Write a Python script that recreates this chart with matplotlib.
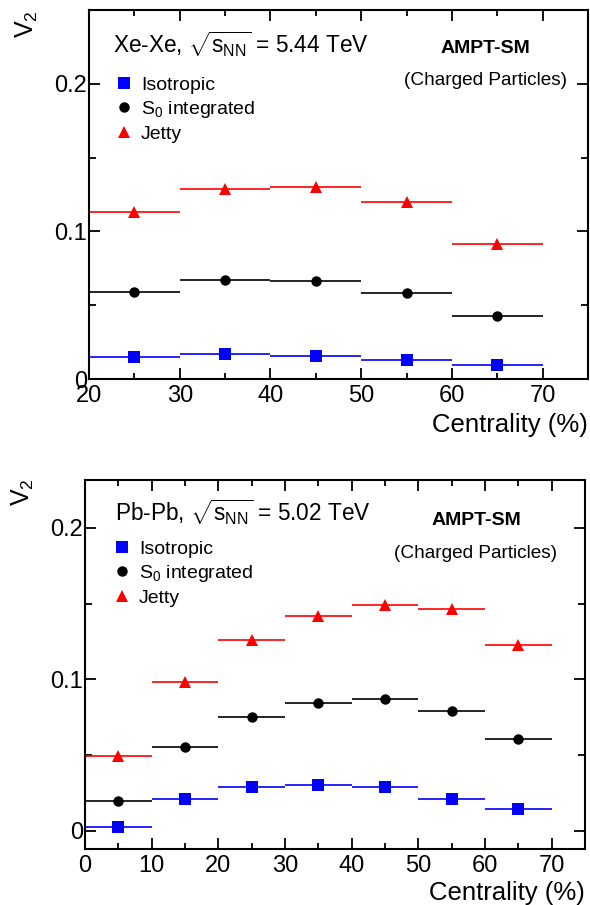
import matplotlib
matplotlib.use("Agg")
import matplotlib.pyplot as plt
from matplotlib.lines import Line2D
from matplotlib.ticker import MultipleLocator

plt.rcParams['font.family'] = ['Liberation Sans', 'DejaVu Sans']
plt.rcParams['mathtext.fontset'] = 'custom'
plt.rcParams['mathtext.rm'] = 'Liberation Sans'
plt.rcParams['mathtext.it'] = 'Liberation Sans:italic'
plt.rcParams['mathtext.bf'] = 'Liberation Sans:bold'

# ---------------- data ----------------
bin_half_width = 5.0

xe_centrality = [25, 35, 45, 55, 65]
xe_isotropic = [0.0146, 0.0167, 0.0153, 0.0128, 0.0092]
xe_s0 = [0.0590, 0.0669, 0.0662, 0.0581, 0.0430]
xe_jetty = [0.1131, 0.1284, 0.1302, 0.1198, 0.0914]

pb_centrality = [5, 15, 25, 35, 45, 55, 65]
pb_isotropic = [0.0024, 0.0209, 0.0292, 0.0303, 0.0290, 0.0213, 0.0141]
pb_s0 = [0.0200, 0.0554, 0.0754, 0.0844, 0.0868, 0.0791, 0.0609]
pb_jetty = [0.0495, 0.0985, 0.1262, 0.1418, 0.1490, 0.1464, 0.1226]

series_labels = ['Isotropic', r'S$_{0}$ integrated', 'Jetty']
series_colors = ['#0000ff', '#000000', '#ff0000']
series_markers = ['s', 'o', '^']
series_msize = [8, 7.5, 8.2]

panels = [
    dict(system=r'Xe-Xe, $\sqrt{\mathrm{s}_{\mathrm{NN}}}$ = 5.44 TeV',
         x=xe_centrality, ys=[xe_isotropic, xe_s0, xe_jetty],
         xlim=(20, 75), ylim=(0.0, 0.25),
         rect=[89/590, 1-379/905, 499/590, 369/905],
         sys_pos=(0.048, 0.8835), ampt_pos=(0.7936, 0.8826), chg_pos=(0.7936, 0.797),
         leg_pos=(0.0507, 0.821), ylab_pos=(-0.124, 1.0), xlab_y=-0.1436),
    dict(system=r'Pb-Pb, $\sqrt{\mathrm{s}_{\mathrm{NN}}}$ = 5.02 TeV',
         x=pb_centrality, ys=[pb_isotropic, pb_s0, pb_jetty],
         xlim=(0, 75), ylim=(-0.012, 0.2317),
         rect=[85/590, 1-849/905, 500/590, 369/905],
         sys_pos=(0.06, 0.889), ampt_pos=(0.782, 0.878), chg_pos=(0.782, 0.789),
         leg_pos=(0.0546, 0.837), ylab_pos=(-0.125, 1.005), xlab_y=-0.138),
]

fig = plt.figure(figsize=(5.9, 9.05), dpi=100)

for p in panels:
    ax = fig.add_axes(p['rect'])
    for y, c, m, ms in zip(p['ys'], series_colors, series_markers, series_msize):
        ax.errorbar(p['x'], y, xerr=bin_half_width, fmt=m, color=c, ms=ms,
                    elinewidth=1.2, capsize=0, mew=0, ecolor=c)
    ax.set_xlim(*p['xlim'])
    ax.set_ylim(*p['ylim'])
    ax.xaxis.set_major_locator(MultipleLocator(10))
    ax.xaxis.set_minor_locator(MultipleLocator(5))
    ax.yaxis.set_major_locator(MultipleLocator(0.1))
    ax.yaxis.set_minor_locator(MultipleLocator(0.05))
    ax.yaxis.set_major_formatter(matplotlib.ticker.FuncFormatter(
        lambda v, pos: '0' if abs(v) < 1e-9 else ('%g' % v)))
    ax.tick_params(which='both', direction='in', top=True, right=True, width=1.3)
    ax.tick_params(which='major', length=8)
    ax.tick_params(which='minor', length=4)
    ax.tick_params(axis='y', which='minor', length=5)
    ax.tick_params(axis='x', which='major', labelsize=17, pad=4)
    ax.tick_params(axis='y', which='major', labelsize=17, pad=1.5)
    for s in ax.spines.values():
        s.set_linewidth(1.5)

    ax.text(p['sys_pos'][0], p['sys_pos'][1], p['system'], transform=ax.transAxes,
            fontsize=16.3, ha='left', va='baseline')
    ax.text(p['ampt_pos'][0], p['ampt_pos'][1], 'AMPT-SM', transform=ax.transAxes,
            fontsize=14, fontweight='bold', ha='center', va='baseline')
    ax.text(p['chg_pos'][0], p['chg_pos'][1], '(Charged Particles)', transform=ax.transAxes,
            fontsize=13.7, ha='center', va='baseline')
    ax.text(p['ylab_pos'][0], p['ylab_pos'][1], r'V$_{2}$', transform=ax.transAxes,
            fontsize=18, rotation=90, ha='center', va='top')
    ax.text(1.0, p['xlab_y'], 'Centrality (%)', transform=ax.transAxes,
            fontsize=18.5, ha='right', va='baseline')

    handles = [Line2D([], [], linestyle='none', marker=m, color=c, ms=ms, mew=0)
               for c, m, ms in zip(series_colors, series_markers, series_msize)]
    ax.legend(handles, series_labels, loc='upper left', bbox_to_anchor=p['leg_pos'],
              frameon=False, fontsize=14, handlelength=1.0, handletextpad=0.38,
              labelspacing=0.27, borderpad=0, borderaxespad=0)

fig.savefig('out.png', dpi=100)
